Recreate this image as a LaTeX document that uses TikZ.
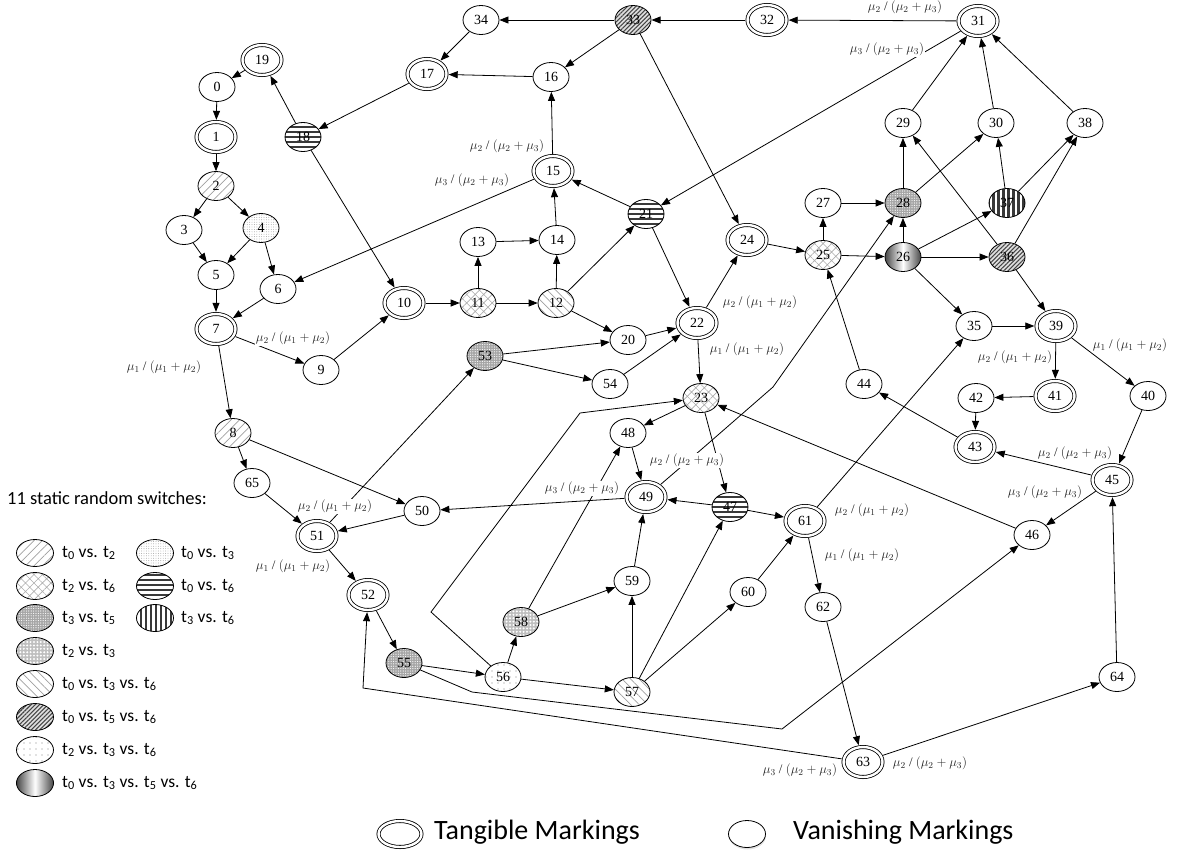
\RequirePackage{fix-cm}
\documentclass[tikz,border=0pt]{standalone}
\usepackage{fontspec}
\setmainfont{Liberation Serif}
\newfontfamily\legfont{Carlito}
\usetikzlibrary{shapes.geometric,arrows.meta,patterns.meta,shadows}

\tikzset{
  vm/.style={ellipse, draw, line width=0.8pt, minimum width=36pt, minimum height=29pt,
    inner sep=0pt, font=\fontsize{14}{16}\selectfont},
  tm/.style={vm, double, double distance=2.4pt, minimum width=39pt, minimum height=30pt, outer sep=2.2pt},
  arr/.style={-{Triangle[length=9pt,width=7pt]}, line width=0.8pt},
  lab/.style={fill=white, inner sep=1pt, font=\fontsize{13}{15}\selectfont, text=black!85},
  % static random switch fillings
  sA/.style={pattern={Lines[angle=45,distance=6pt,line width=0.7pt]}, pattern color=gray!75},
  sB/.style={pattern={Dots[distance=2.4pt,radius=0.45pt]}, pattern color=gray!80},
  sC/.style={pattern={Hatch[angle=45,distance=6pt,line width=0.6pt]}, pattern color=gray!65},
  sD/.style={fill=gray!45!black, path picture={
      \foreach \k [evaluate=\k as \yy using 5*\k+2] in {0,...,9}
        \draw[white,line width=2.3pt] ([yshift=\yy pt]path picture bounding box.south west)
          -- ([yshift=\yy pt]path picture bounding box.south east);}},
  sE/.style={preaction={fill=gray!70}, pattern={Dots[distance=2.4pt,radius=0.6pt]}, pattern color=white},
  sF/.style={fill=gray!45!black, path picture={
      \foreach \k [evaluate=\k as \xx using 5*\k+2] in {0,...,12}
        \draw[white,line width=2.3pt] ([xshift=\xx pt]path picture bounding box.south west)
          -- ([xshift=\xx pt]path picture bounding box.north west);}},
  sG/.style={preaction={fill=gray!50}, pattern={Dots[distance=3.4pt,radius=1.1pt]}, pattern color=white},
  sH/.style={pattern={Lines[angle=-45,distance=6pt,line width=0.7pt]}, pattern color=gray!75},
  sI/.style={preaction={fill=gray!25}, pattern={Lines[angle=45,distance=3pt,line width=1.1pt]}, pattern color=gray!55!black},
  sJ/.style={pattern={Dots[distance=6pt,radius=0.7pt]}, pattern color=gray},
  sK/.style={left color=gray!55!black, right color=gray!55!black, middle color=white},
  lg/.style={ellipse, draw, line width=0.8pt, minimum width=37pt, minimum height=27pt, inner sep=0pt},
  lgt/.style={anchor=west, inner sep=0pt, font=\legfont\fontsize{17.5}{20}\selectfont},
  keyshadow/.style={drop shadow={shadow xshift=0.5pt, shadow yshift=-2pt, fill=gray!45}},
}

\begin{document}
\begin{tikzpicture}[x=1pt,y=-1pt]
\useasboundingbox (0,0) rectangle (1177,863);

% ---------- vanishing markings ----------
\node[vm] (n0) at (217,87) {0};
\node[vm,sA] (n2) at (216,186) {2};
\node[vm] (n3) at (184,230) {3};
\node[vm,sB] (n4) at (261,228) {4};
\node[vm] (n5) at (216,275) {5};
\node[vm] (n6) at (278,289) {6};
\node[vm,sA] (n8) at (233,433) {8};
\node[vm] (n9) at (321,370) {9};
\node[vm,sC] (n11) at (478,303) {11};
\node[vm,sH] (n12) at (556,303) {12};
\node[vm] (n13) at (478,242) {13};
\node[vm] (n14) at (557,240) {14};
\node[vm] (n16) at (551,77) {16};
\node[vm,sD] (n18) at (303,137) {18};
\node[vm] (n20) at (628,340) {20};
\node[vm,sD] (n21) at (646,214) {21};
\node[vm,sC] (n23) at (701,398) {23};
\node[vm,sC] (n25) at (823,255) {25};
\node[vm,sK] (n26) at (903,257) {26};
\node[vm] (n27) at (823,203) {27};
\node[vm,sE] (n28) at (903,203) {28};
\node[vm] (n29) at (903,123) {29};
\node[vm] (n30) at (996,123) {30};
\node[vm,sI] (n33) at (633,20) {33};
\node[vm] (n34) at (481,20) {34};
\node[vm] (n35) at (974,326) {35};
\node[vm,sI] (n36) at (1007,257) {36};
\node[vm,sF] (n37) at (1007,203) {37};
\node[vm] (n38) at (1085,123) {38};
\node[vm] (n40) at (1148,396) {40};
\node[vm] (n42) at (976,398) {42};
\node[vm] (n44) at (864,384) {44};
\node[vm] (n46) at (1032,535) {46};
\node[vm,sD] (n47) at (730,507) {47};
\node[vm] (n48) at (628,433) {48};
\node[vm] (n50) at (422,511) {50};
\node[vm,sE] (n53) at (485,356) {53};
\node[vm] (n54) at (610,384) {54};
\node[vm,sE] (n55) at (404,663) {55};
\node[vm,sJ] (n56) at (503,677) {56};
\node[vm,sH] (n57) at (632,692) {57};
\node[vm,sG] (n58) at (521,622) {58};
\node[vm] (n59) at (632,581) {59};
\node[vm] (n60) at (748,592) {60};
\node[vm] (n62) at (823,607) {62};
\node[vm] (n64) at (1117,677) {64};
\node[vm] (n65) at (252,483) {65};

% ---------- tangible markings ----------
\node[tm] (n1) at (216,137) {1};
\node[tm] (n7) at (216,329) {7};
\node[tm] (n10) at (404,303) {10};
\node[tm] (n15) at (553,171) {15};
\node[tm] (n17) at (427,74) {17};
\node[tm] (n19) at (262,60) {19};
\node[tm] (n22) at (697,323) {22};
\node[tm] (n24) at (747,240) {24};
\node[tm] (n31) at (978,21) {31};
\node[tm] (n32) at (767,20) {32};
\node[tm] (n39) at (1056,326) {39};
\node[tm] (n41) at (1055,396) {41};
\node[tm] (n43) at (975,447) {43};
\node[tm] (n45) at (1112,480) {45};
\node[tm] (n49) at (646,497) {49};
\node[tm] (n51) at (317,536) {51};
\node[tm] (n52) at (368,595) {52};
\node[tm] (n61) at (805,521) {61};
\node[tm] (n63) at (863,762) {63};

% ---------- bend points of routed arcs ----------
\coordinate (b56a) at (431,612);
\coordinate (b56b) at (580,413);
\coordinate (b55a) at (472,692);
\coordinate (b55b) at (782,729);
\coordinate (b63) at (363,688);
\coordinate (b49a) at (703,448);
\coordinate (b49b) at (773,387);

% ---------- straight arcs ----------
\foreach \a/\b in {19/0, 0/1, 1/2, 2/3, 2/4, 3/5, 4/5, 4/6, 5/7, 6/7, 7/9, 7/8,
  9/10, 8/65, 8/50, 65/51, 50/51, 51/53, 51/52, 52/55, 55/56, 56/58, 56/57,
  57/59, 57/47, 57/60, 58/59, 58/48, 59/49, 60/61, 61/35, 61/62, 62/63, 63/64,
  64/45, 45/43, 45/46, 46/23, 43/44, 44/25, 42/43, 41/42, 39/41, 39/40, 40/45,
  35/39, 36/39, 26/35, 26/36, 26/37, 26/28, 25/26, 25/27, 27/28, 28/29, 28/30,
  36/29, 36/38, 37/30, 37/38, 29/31, 30/31, 38/31, 31/32, 31/21, 32/33, 33/34,
  33/16, 33/24, 34/17, 16/17, 17/18, 18/19, 18/10, 15/16, 15/6, 10/11, 11/13,
  11/12, 13/14, 12/14, 14/15, 12/21, 12/20, 21/15, 21/22, 20/22, 53/20, 53/54,
  54/22, 22/24, 22/23, 24/25, 23/48, 23/47, 48/49, 47/49, 47/61, 49/50}
  \draw[arr] (n\a) -- (n\b);

% ---------- routed arcs ----------
\draw[arr] (n56) -- (b56a) -- (b56b) -- (n23);
\draw[arr] (n55) -- (b55a) -- (b55b) -- (n46);
\draw[arr] (n63) -- (b63) -- (n52);
\draw[arr] (n49) -- (b49a) -- (b49b) -- (n28);

% ---------- branch probabilities ----------
\node[lab] (p1) at (905,7) {$\mu_2$ / $(\mu_2 + \mu_3)$};
\node[lab] (p2) at (887,49) {$\mu_3$ / $(\mu_2 + \mu_3)$};
\node[lab] (p3) at (507,146) {$\mu_2$ / $(\mu_2 + \mu_3)$};
\node[lab] (p4) at (472,180) {$\mu_3$ / $(\mu_2 + \mu_3)$};
\node[lab] (p5) at (293,338) {$\mu_2$ / $(\mu_1 + \mu_2)$};
\node[lab] (p6) at (164,367) {$\mu_1$ / $(\mu_1 + \mu_2)$};
\node[lab] (p7) at (760,302) {$\mu_2$ / $(\mu_1 + \mu_2)$};
\node[lab] (p8) at (747,349) {$\mu_1$ / $(\mu_1 + \mu_2)$};
\node[lab] (p9) at (687,460) {$\mu_2$ / $(\mu_2 + \mu_3)$};
\node[lab] (p10) at (582,488) {$\mu_3$ / $(\mu_2 + \mu_3)$};
\node[lab] (p11) at (335,506) {$\mu_2$ / $(\mu_1 + \mu_2)$};
\node[lab] (p12) at (293,566) {$\mu_1$ / $(\mu_1 + \mu_2)$};
\node[lab] (p13) at (872,510) {$\mu_2$ / $(\mu_1 + \mu_2)$};
\node[lab] (p14) at (862,555) {$\mu_1$ / $(\mu_1 + \mu_2)$};
\node[lab] (p15) at (1015,357) {$\mu_2$ / $(\mu_1 + \mu_2)$};
\node[lab] (p16) at (1130,345) {$\mu_1$ / $(\mu_1 + \mu_2)$};
\node[lab] (p17) at (1075,453) {$\mu_2$ / $(\mu_2 + \mu_3)$};
\node[lab] (p18) at (1045,492) {$\mu_3$ / $(\mu_2 + \mu_3)$};
\node[lab] (p19) at (800,770) {$\mu_3$ / $(\mu_2 + \mu_3)$};
\node[lab] (p20) at (930,763) {$\mu_2$ / $(\mu_2 + \mu_3)$};

% ---------- legend: switches ----------
\node[lgt, font=\legfont\fontsize{18.5}{21}\selectfont] (ttl) at (7,498) {11 static random switches:};
\node[lg,sA] (k1) at (35,553) {};  \node[lgt] (k1t) at (62,553) {t\textsubscript{0} vs. t\textsubscript{2}};
\node[lg,sC] (k2) at (35,586) {};  \node[lgt] (k2t) at (62,586) {t\textsubscript{2} vs. t\textsubscript{6}};
\node[lg,sE] (k3) at (35,618) {};  \node[lgt] (k3t) at (62,618) {t\textsubscript{3} vs. t\textsubscript{5}};
\node[lg,sG] (k4) at (35,651) {};  \node[lgt] (k4t) at (62,651) {t\textsubscript{2} vs. t\textsubscript{3}};
\node[lg,sH] (k5) at (35,684) {};  \node[lgt] (k5t) at (62,684) {t\textsubscript{0} vs. t\textsubscript{3} vs. t\textsubscript{6}};
\node[lg,sI] (k6) at (35,717) {};  \node[lgt] (k6t) at (62,717) {t\textsubscript{0} vs. t\textsubscript{5} vs. t\textsubscript{6}};
\node[lg,sJ] (k7) at (35,750) {};  \node[lgt] (k7t) at (62,750) {t\textsubscript{2} vs. t\textsubscript{3} vs. t\textsubscript{6}};
\node[lg,sK] (k8) at (35,783) {};  \node[lgt] (k8t) at (62,783) {t\textsubscript{0} vs. t\textsubscript{3} vs. t\textsubscript{5} vs. t\textsubscript{6}};
\node[lg,sB] (k9) at (155,553) {}; \node[lgt] (k9t) at (181,553) {t\textsubscript{0} vs. t\textsubscript{3}};
\node[lg,sD] (k10) at (155,586) {}; \node[lgt] (k10t) at (181,586) {t\textsubscript{0} vs. t\textsubscript{6}};
\node[lg,sF] (k11) at (155,618) {}; \node[lgt] (k11t) at (181,618) {t\textsubscript{3} vs. t\textsubscript{6}};

% ---------- legend: marking types ----------
\node[lg, double, double distance=2.4pt, minimum width=43pt, minimum height=26pt, fill=white, keyshadow]
  (kt) at (400,834) {};
\node[lgt, font=\legfont\fontsize{28}{32}\selectfont] (ktt) at (434,832) {Tangible Markings};
\node[lg, minimum width=37pt, minimum height=27pt, fill=white, keyshadow] (kv) at (747,834) {};
\node[lgt, font=\legfont\fontsize{28}{32}\selectfont] (kvt) at (793,832) {Vanishing Markings};
\end{tikzpicture}
\end{document}
